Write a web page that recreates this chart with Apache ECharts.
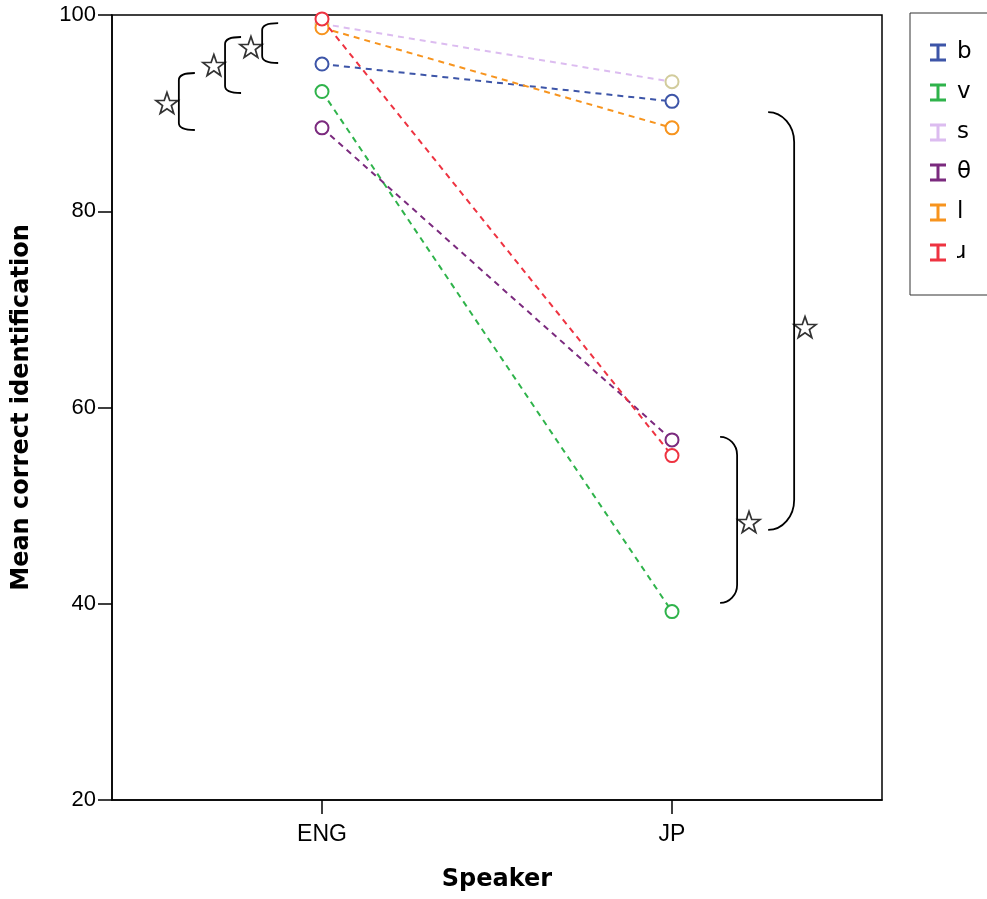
<!DOCTYPE html>
<html><head><meta charset="utf-8">
<script src="https://cdn.jsdelivr.net/npm/echarts@6/dist/echarts.min.js"></script>
<style>html,body{margin:0;padding:0;background:#fff}#c{width:987px;height:899px}</style>
</head><body><div id="c"></div>
<script>
// ---- data ----
const speakers = ['ENG', 'JP'];           // x positions 0 and 1
const speakerPos = [0, 1];
const seriesNames = ['b', 'v', 's', 'θ', 'l', 'ɹ'];
const vals_b = [95.0, 91.2];
const vals_v = [92.2, 39.2];
const vals_s = [99.1, 93.2];
const vals_theta = [88.5, 56.7];
const vals_l = [98.7, 88.5];
const vals_r = [99.6, 55.1];
const yTicks = [20, 40, 60, 80, 100];
// significance brackets: [x, yTop, yBottom, side]  (side 1 = opens right, -1 = opens left)
const brackets = [
  [-0.409, 94.09, 88.28, 1],
  [-0.277, 97.76, 92.05, 1],
  [-0.171, 99.18, 95.11, 1],
  [1.349, 90.11, 47.52, -1],
  [1.186, 57.0, 40.08, -1]
];
const stars = [[-0.443, 91.03], [-0.309, 94.9], [-0.203, 96.74], [1.380, 68.2], [1.220, 48.33]];

// ---- styles ----
const lineColors = ['#3d55a8', '#2fb34b', '#dcbcf0', '#7b2a7e', '#f7941e', '#ee3341'];
const markColors = ['#3d55a8', '#2fb34b', '#d2cc9c', '#7b2a7e', '#f7941e', '#ee3341'];
const allVals = [vals_b, vals_v, vals_s, vals_theta, vals_l, vals_r];
const FONT = '"Liberation Sans", Arial, sans-serif';
const WIDE = '"DejaVu Sans", sans-serif';
const iconI = 'path://M0,0H16V3H9.5V15H16V18H0V15H6.5V3H0Z';
const starPath = 'path://M12,0L14.85,8.2L23.5,8.3L16.6,13.5L19.1,21.8L12,16.9L4.9,21.8L7.4,13.5L0.5,8.3L9.15,8.2Z';

const series = seriesNames.map((n, i) => ({
  name: n, type: 'line',
  data: speakerPos.map((x, k) => [x, allVals[i][k]]),
  symbol: 'emptyCircle', symbolSize: 13,
  lineStyle: { color: lineColors[i], width: 2, type: [6, 5] },
  itemStyle: { color: markColors[i], borderColor: markColors[i], borderWidth: 1.8 },
  z: 3 + i
}));

series.push({
  type: 'custom', name: 'brackets', silent: true, z: 10,
  data: brackets,
  encode: { x: 0, y: [1, 2] },
  renderItem: function (params, api) {
    const side = api.value(3);
    const p1 = api.coord([api.value(0), api.value(1)]);
    const p2 = api.coord([api.value(0), api.value(2)]);
    const x = p1[0], y1 = p1[1], y2 = p2[1];
    const big = (y2 - y1) > 200;
    let arm, rh, rv;
    if (side > 0) { arm = 16; rh = 7; rv = 7; }
    else if (big) { arm = 26; rh = 26; rv = 30; }
    else { arm = 17; rh = 17; rv = 18; }
    const s = side;
    const ax = x + s * arm;
    const d = 'M' + ax + ',' + y1 +
      ' C' + (x + s * rh * 0.45) + ',' + y1 + ' ' + x + ',' + (y1 + rv * 0.45) + ' ' + x + ',' + (y1 + rv) +
      ' L' + x + ',' + (y2 - rv) +
      ' C' + x + ',' + (y2 - rv * 0.45) + ' ' + (x + s * rh * 0.45) + ',' + y2 + ' ' + ax + ',' + y2;
    return { type: 'path', shape: { pathData: d }, style: { stroke: '#000', lineWidth: 1.8, fill: null } };
  }
});
series.push({
  type: 'scatter', name: 'stars', silent: true, z: 11,
  data: stars, symbol: starPath, symbolSize: [22, 21],
  itemStyle: { color: '#fff', borderColor: '#000', borderWidth: 1.7 }
});

const chart = echarts.init(document.getElementById('c'), null, { renderer: 'canvas' });
chart.setOption({
  backgroundColor: '#fff',
  animation: false,
  textStyle: { fontFamily: FONT },
  grid: { left: 112, right: 105, top: 15, bottom: 99, show: true, borderColor: '#000', borderWidth: 1.5, containLabel: false },
  legend: {
    orient: 'vertical', left: 910, top: 13,
    padding: [28, 40, 31, 20],
    borderColor: '#333', borderWidth: 1,
    itemWidth: 16, itemHeight: 18, itemGap: 17,
    textStyle: { fontFamily: WIDE, fontSize: 23, lineHeight: 18, color: '#000', padding: [0, 0, 0, 6] },
    data: seriesNames.map((n, i) => ({ name: n, icon: iconI, itemStyle: { color: lineColors[i], borderWidth: 0 } }))
  },
  xAxis: {
    type: 'value', min: -0.6, max: 1.6,
    name: 'Speaker', nameLocation: 'middle', nameGap: 68,
    nameTextStyle: { fontFamily: WIDE, fontSize: 24, fontWeight: 'bold', color: '#000' },
    axisLine: { show: true, onZero: false, lineStyle: { color: '#000', width: 1.5 } },
    axisTick: { show: true, length: 14, lineStyle: { color: '#000', width: 1.5 }, customValues: speakerPos },
    axisLabel: { color: '#000', fontSize: 23, margin: 23, fontFamily: FONT, customValues: speakerPos,
      formatter: v => speakers[speakerPos.indexOf(Math.round(v))] || '' },
    splitLine: { show: false }
  },
  yAxis: {
    type: 'value', min: 20, max: 100, interval: 20,
    name: 'Mean correct identification', nameLocation: 'middle', nameGap: 78,
    nameTextStyle: { fontFamily: WIDE, fontSize: 24, fontWeight: 'bold', color: '#000' },
    axisLine: { show: true, onZero: false, lineStyle: { color: '#000', width: 1.5 } },
    axisTick: { show: true, length: 14, lineStyle: { color: '#000', width: 1.5 } },
    axisLabel: { color: '#000', fontSize: 22, margin: 16, fontFamily: FONT },
    splitLine: { show: false }
  },
  series: series
});
</script>
</body></html>
